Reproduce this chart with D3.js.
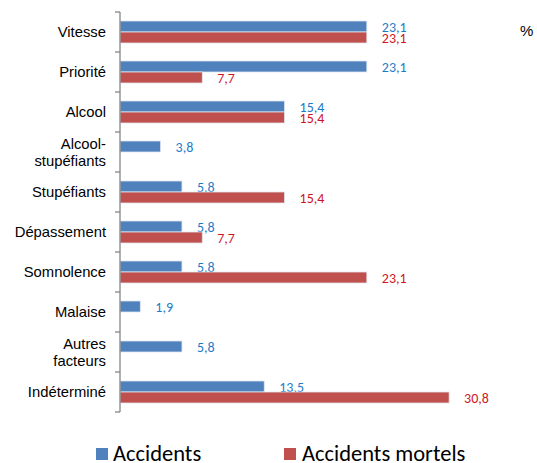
<!DOCTYPE html>
<html><head><meta charset="utf-8">
<script src="https://cdn.jsdelivr.net/npm/d3@7"></script>
<style>body{margin:0;background:#fff}svg{display:block}</style>
</head><body>
<svg id="c" width="537" height="463"></svg>
<script>
const categories = ["Vitesse","Priorité","Alcool","Alcool-\nstupéfiants","Stupéfiants","Dépassement","Somnolence","Malaise","Autres\nfacteurs","Indéterminé"];
const accidents = [23.1,23.1,15.4,3.8,5.8,5.8,5.8,1.9,5.8,13.5];
const mortels = [23.1,7.7,15.4,null,15.4,7.7,23.1,null,null,30.8];
const seriesNames = ["Accidents","Accidents mortels"];
const colors = ["#4F81BD","#C0504D"];
const labelColors = ["#1C7BC9","#D0141E"];

const svg = d3.select("#c");
const x = d3.scaleLinear().domain([0,35]).range([120,494]);
const y = d3.scaleBand().domain(categories).range([12,412]);
const sub = d3.scaleBand().domain([0,1]).range([0,22]);
const fmt = v => String(v).replace(".", ",");

const g = svg.append("g");
categories.forEach((c,i)=>{
  const yc = y(c) + y.bandwidth()/2 - 11;
  [accidents[i], mortels[i]].forEach((v,s)=>{
    if(v==null) return;
    g.append("rect").attr("x",x(0)).attr("y",yc+sub(s)).attr("width",x(v)-x(0)).attr("height",sub.bandwidth())
      .attr("fill",colors[s]).attr("stroke","#dfe6ef").attr("stroke-width",0.8);
    g.append("text").attr("x",x(v)+15).attr("y",yc+sub(s)+sub.bandwidth()/2).attr("dy","0.36em")
      .attr("fill",labelColors[s]).style("font-family","Carlito, Lato, sans-serif").style("font-size","14px").text(fmt(v));
  });
});

// axis
const ax = svg.append("g").attr("transform","translate(120,0)")
  .call(d3.axisLeft(y).tickSize(0).tickFormat(""));
ax.select(".domain").remove();
svg.append("line").attr("x1",120).attr("x2",120).attr("y1",12).attr("y2",412).attr("stroke","#868686").attr("stroke-width",1.3);
d3.range(11).forEach(k=>{
  const yy = 12 + k*y.step();
  svg.append("line").attr("x1",115).attr("x2",120).attr("y1",yy).attr("y2",yy).attr("stroke","#868686").attr("stroke-width",1.3);
});
categories.forEach(c=>{
  const lines = c.split("\n");
  const t = svg.append("text").attr("text-anchor","end").attr("x",106)
    .style("font-family","'Liberation Sans', Arial, sans-serif").style("font-size","14.8px").attr("fill","#000");
  const yc = y(c)+y.bandwidth()/2;
  lines.forEach((l,j)=>{
    t.append("tspan").attr("x",106).attr("y", yc + (j-(lines.length-1)/2)*17).attr("dy","0.36em").text(l);
  });
});

svg.append("text").attr("x",520).attr("y",31).attr("dy","0.36em").style("font-family","'Liberation Sans', Arial, sans-serif").style("font-size","15px").text("%");

// legend
const lx = [96, 284], tx = [113, 302];
seriesNames.forEach((n,s)=>{
  svg.append("rect").attr("x",lx[s]).attr("y",448).attr("width",12).attr("height",12).attr("fill",colors[s]);
  svg.append("text").attr("x",tx[s]).attr("y",453).attr("dy","0.36em").style("font-family","Carlito, Lato, sans-serif").style("font-size","22.5px").attr("fill","#000").text(n);
});
</script>
</body></html>
